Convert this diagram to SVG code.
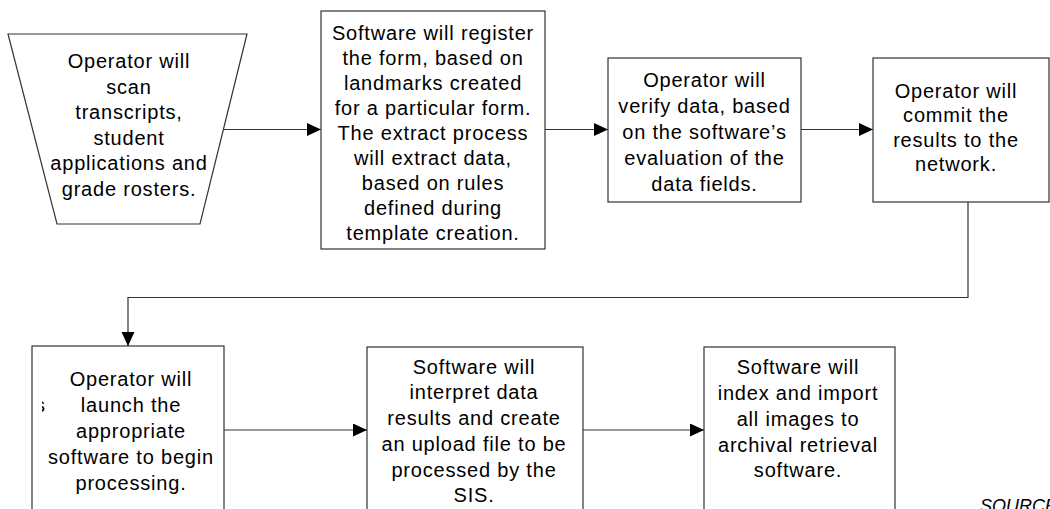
<svg xmlns="http://www.w3.org/2000/svg" width="1050" height="509" viewBox="0 0 1050 509">
<style>
.shape{fill:#fff;stroke:#333;stroke-width:1.2}
.t{font-family:"Liberation Sans",Arial,sans-serif;font-size:20px;letter-spacing:0.8px;fill:#000;text-anchor:middle}
.c{fill:none;stroke:#333;stroke-width:1.2}
.src{font-family:"Liberation Sans",Arial,sans-serif;font-size:18px;font-style:italic;fill:#000}
</style>
<defs>
<marker id="ah" markerUnits="userSpaceOnUse" markerWidth="14" markerHeight="14" refX="14" refY="6.5" orient="auto">
<path d="M0,0 L14,6.5 L0,13 z" fill="#000"/>
</marker>
<clipPath id="sliver"><rect x="42" y="395" width="3" height="20"/></clipPath>
</defs>
<rect width="1050" height="509" fill="#fff"/>
<g id="connectors">
<path class="c" d="M224,129.5 H321" marker-end="url(#ah)"/>
<path class="c" d="M545,129.5 H608" marker-end="url(#ah)"/>
<path class="c" d="M801,129.5 H873" marker-end="url(#ah)"/>
<path class="c" d="M968,202 V297.5 H128 V346" marker-end="url(#ah)"/>
<path class="c" d="M224,430 H367" marker-end="url(#ah)"/>
<path class="c" d="M583,430 H704" marker-end="url(#ah)"/>
</g>
<g id="n1">
<polygon class="shape" points="8,34 247,34 200,224 57,224"/>
<text class="t" x="129" y="68">Operator will</text>
<text class="t" x="129" y="93.5">scan</text>
<text class="t" x="129" y="119">transcripts,</text>
<text class="t" x="129" y="144.5">student</text>
<text class="t" x="129" y="170">applications and</text>
<text class="t" x="129" y="195.5">grade rosters.</text>
</g>
<g id="n2">
<rect class="shape" x="321" y="11" width="224" height="238"/>
<text class="t" x="433" y="39.5">Software will register</text>
<text class="t" x="433" y="64.5">the form, based on</text>
<text class="t" x="433" y="89.5">landmarks created</text>
<text class="t" x="433" y="114.5">for a particular form.</text>
<text class="t" x="433" y="139.5">The extract process</text>
<text class="t" x="433" y="164.5">will extract data,</text>
<text class="t" x="433" y="189.5">based on rules</text>
<text class="t" x="433" y="214.5">defined during</text>
<text class="t" x="433" y="239.5">template creation.</text>
</g>
<g id="n3">
<rect class="shape" x="608" y="58" width="193" height="144"/>
<text class="t" x="704.5" y="87">Operator will</text>
<text class="t" x="704.5" y="113">verify data, based</text>
<text class="t" x="704.5" y="139">on the software’s</text>
<text class="t" x="704.5" y="165">evaluation of the</text>
<text class="t" x="704.5" y="191">data fields.</text>
</g>
<g id="n4">
<rect class="shape" x="873" y="58" width="176" height="144"/>
<text class="t" x="956" y="97.5">Operator will</text>
<text class="t" x="956" y="122">commit the</text>
<text class="t" x="956" y="146.5">results to the</text>
<text class="t" x="956" y="171">network.</text>
</g>
<g id="n5">
<rect class="shape" x="32" y="346" width="192" height="180"/>
<text class="t" style="text-anchor:start;letter-spacing:0" x="35" y="411.5" clip-path="url(#sliver)">s</text>
<text class="t" x="131" y="386">Operator will</text>
<text class="t" x="131" y="412">launch the</text>
<text class="t" x="131" y="438">appropriate</text>
<text class="t" x="131" y="464">software to begin</text>
<text class="t" x="131" y="490">processing.</text>
</g>
<g id="n6">
<rect class="shape" x="367" y="347" width="216" height="180"/>
<text class="t" x="474" y="373.5">Software will</text>
<text class="t" x="474" y="399">interpret data</text>
<text class="t" x="474" y="425">results and create</text>
<text class="t" x="474" y="451">an upload file to be</text>
<text class="t" x="474" y="477">processed by the</text>
<text class="t" x="474" y="502">SIS.</text>
</g>
<g id="n7">
<rect class="shape" x="704" y="347" width="191" height="180"/>
<text class="t" x="798" y="373.5">Software will</text>
<text class="t" x="798" y="400">index and import</text>
<text class="t" x="798" y="426">all images to</text>
<text class="t" x="798" y="452">archival retrieval</text>
<text class="t" x="798" y="477">software.</text>
</g>
<text class="src" x="980" y="512">SOURCE</text>
</svg>
